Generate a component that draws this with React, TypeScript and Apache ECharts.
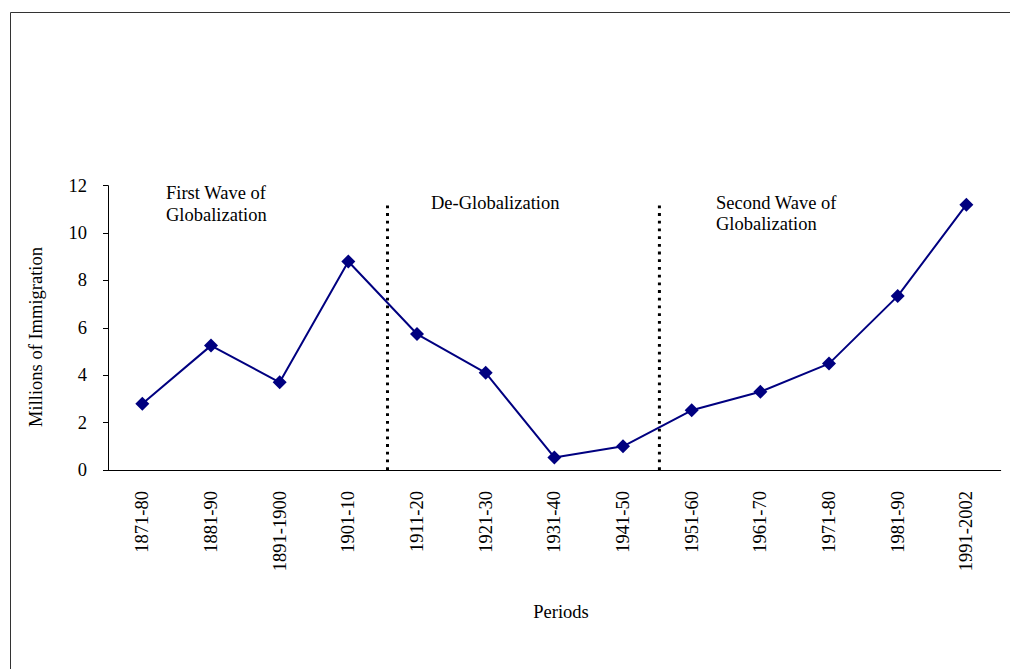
import React, { useEffect, useRef } from "react";
import * as echarts from "echarts";

const categories = [
  "1871-80", "1881-90", "1891-1900", "1901-10", "1911-20", "1921-30", "1931-40",
  "1941-50", "1951-60", "1961-70", "1971-80", "1981-90", "1991-2002",
];
const immigration = [2.8, 5.25, 3.7, 8.8, 5.74, 4.1, 0.53, 1.0, 2.52, 3.3, 4.49, 7.34, 11.2];
const yTicks = [0, 2, 4, 6, 8, 10, 12];
const dividerX = [4.07, 8.03];
const dividerTop = 11.36;

const FONT = "'Liberation Serif', 'Times New Roman', serif";
const FS = 18.5;

export default function App() {
  const ref = useRef<HTMLDivElement>(null);
  useEffect(() => {
    if (!ref.current) return;
    const chart = echarts.init(ref.current, undefined, { renderer: "svg" });
    const textStyle = (text: string, extra: any = {}) => ({
      text,
      fill: "#000",
      font: `${FS}px ${FONT}`,
      ...extra,
    });
    chart.setOption({
      animation: false,
      grid: { left: 108, right: 9.3, top: 185.7, bottom: 199 },
      xAxis: [
        {
          type: "category",
          data: categories,
          boundaryGap: true,
          axisLine: { lineStyle: { color: "#000", width: 1 } },
          axisTick: { length: 5, lineStyle: { color: "#000" } },
          axisLabel: {
            rotate: 90,
            margin: 21,
            color: "#000",
            fontFamily: FONT,
            fontSize: FS,
            interval: 0,
          },
          splitLine: { show: false },
        },
        {
          type: "value",
          min: 0,
          max: 13,
          show: false,
          splitLine: { show: false },
        },
      ],
      yAxis: {
        type: "value",
        min: yTicks[0],
        max: yTicks[yTicks.length - 1],
        interval: 2,
        axisLine: { show: true, lineStyle: { color: "#000", width: 1 } },
        axisTick: { show: true, length: 5, lineStyle: { color: "#000" } },
        axisLabel: { margin: 21, color: "#000", fontFamily: FONT, fontSize: FS },
        splitLine: { show: false },
      },
      series: [
        {
          type: "line",
          data: immigration,
          xAxisIndex: 0,
          symbol: "diamond",
          symbolSize: 14,
          lineStyle: { color: "#000080", width: 2 },
          itemStyle: { color: "#000080" },
          z: 3,
        },
        ...dividerX.map((x) => ({
          type: "line",
          xAxisIndex: 1,
          data: [[x, 0], [x, dividerTop]],
          symbol: "none",
          lineStyle: { color: "#000", width: 3, type: [2.8, 4.9] },
          z: 2,
          silent: true,
        })),
      ],
      graphic: [
        {
          type: "rect",
          shape: { x: 10.5, y: 12.5, width: 1100, height: 800 },
          style: { fill: "none", stroke: "#333", lineWidth: 1 },
          silent: true,
        },
        { type: "text", x: 166, y: 193, style: textStyle("First Wave of", { verticalAlign: "middle" }) },
        { type: "text", x: 166, y: 215, style: textStyle("Globalization", { verticalAlign: "middle" }) },
        { type: "text", x: 431, y: 203, style: textStyle("De-Globalization", { verticalAlign: "middle" }) },
        { type: "text", x: 716, y: 203, style: textStyle("Second Wave of", { verticalAlign: "middle" }) },
        { type: "text", x: 716, y: 224, style: textStyle("Globalization", { verticalAlign: "middle" }) },
        {
          type: "text",
          x: 561,
          y: 612,
          style: textStyle("Periods", { align: "center", verticalAlign: "middle" }),
        },
        {
          type: "text",
          x: 36,
          y: 337,
          rotation: Math.PI / 2,
          style: textStyle("Millions of Immigration", { align: "center", verticalAlign: "middle" }),
        },
      ],
    });
    return () => chart.dispose();
  }, []);
  return (
    <div
      ref={ref}
      style={{ position: "fixed", left: 0, top: 0, width: 1010, height: 669, background: "#fff" }}
    />
  );
}
